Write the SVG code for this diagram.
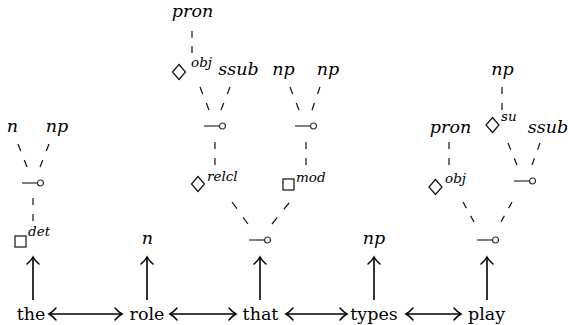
<svg xmlns="http://www.w3.org/2000/svg" xmlns:xlink="http://www.w3.org/1999/xlink" width="568" height="325" viewBox="0 0 568 325">
  <style>
    .word { font-size: 17.5px; text-anchor: middle; }
    .cat { font-style: italic; font-size: 17.5px; text-anchor: middle; }
    .sup { font-style: italic; font-size: 13.5px; }
    .dash { stroke: #111; stroke-width: 1.2; stroke-dasharray: 7 9; fill: none; }
    .arrow { stroke: #000; stroke-width: 1.6; fill: none; }
    .shape { stroke: #111; stroke-width: 1.2; fill: none; }
  </style>
  <defs>
    <!-- lollipop: short bar ending in an open circle -->
    <g id="lolli">
      <line x1="0" y1="0" x2="15" y2="0" stroke="#555" stroke-width="1.5"/>
      <circle cx="18.5" cy="0" r="3" fill="#fff" stroke="#333" stroke-width="1.2"/>
    </g>
    <path id="diamond" d="M0,-7.5 L6.5,0 L0,7.5 L-6.5,0 Z" class="shape"/>
    <marker id="head" markerUnits="userSpaceOnUse" markerWidth="16" markerHeight="16" viewBox="-8 -8 16 16" refX="0" refY="0" orient="auto-start-reverse" overflow="visible">
      <path d="M-7,-6 Q-3,-1.5 0,0 Q-3,1.5 -7,6" stroke="#000" stroke-width="1.5" fill="none" stroke-linecap="round"/>
    </marker>
  </defs>

  <!-- dashed links and arrows -->
  <g id="connectors">
    <line class="dash" pathLength="23" x1="18" y1="144" x2="27" y2="167"/>
    <line class="dash" pathLength="23" x1="49" y1="144" x2="40" y2="167"/>
    <line class="dash" pathLength="23" x1="33" y1="198" x2="33" y2="221"/>
    <line class="dash" pathLength="23" x1="192" y1="31" x2="192" y2="53"/>
    <line class="dash" pathLength="23" x1="200" y1="87" x2="209" y2="110"/>
    <line class="dash" pathLength="23" x1="230" y1="87" x2="221" y2="110"/>
    <line class="dash" pathLength="23" x1="215" y1="142" x2="215" y2="165"/>
    <line class="dash" pathLength="23" x1="290" y1="87" x2="299" y2="110"/>
    <line class="dash" pathLength="23" x1="320" y1="87" x2="312" y2="110"/>
    <line class="dash" pathLength="23" x1="306" y1="142" x2="306" y2="165"/>
    <line class="dash" pathLength="23" x1="232" y1="202" x2="248" y2="224"/>
    <line class="dash" pathLength="23" x1="289" y1="203" x2="272" y2="224"/>
    <line class="dash" pathLength="23" x1="502" y1="87" x2="502" y2="110"/>
    <line class="dash" pathLength="23" x1="449" y1="142" x2="449" y2="165"/>
    <line class="dash" pathLength="23" x1="508" y1="143" x2="517" y2="165"/>
    <line class="dash" pathLength="23" x1="540" y1="143" x2="532" y2="165"/>
    <line class="dash" pathLength="23" x1="463" y1="202" x2="474" y2="222"/>
    <line class="dash" pathLength="23" x1="512" y1="202" x2="501" y2="222"/>

    <!-- word to category -->
    <line class="arrow" x1="33" y1="300" x2="33" y2="257" marker-end="url(#head)"/>
    <line class="arrow" x1="147" y1="300" x2="147" y2="257" marker-end="url(#head)"/>
    <line class="arrow" x1="260" y1="300" x2="260" y2="257" marker-end="url(#head)"/>
    <line class="arrow" x1="374" y1="300" x2="374" y2="257" marker-end="url(#head)"/>
    <line class="arrow" x1="487" y1="300" x2="487" y2="257" marker-end="url(#head)"/>

    <!-- word order -->
    <line class="arrow" x1="49" y1="314" x2="122" y2="314" marker-start="url(#head)" marker-end="url(#head)"/>
    <line class="arrow" x1="170" y1="314" x2="236" y2="314" marker-start="url(#head)" marker-end="url(#head)"/>
    <line class="arrow" x1="286" y1="314" x2="347" y2="314" marker-start="url(#head)" marker-end="url(#head)"/>
    <line class="arrow" x1="406" y1="314" x2="461" y2="314" marker-start="url(#head)" marker-end="url(#head)"/>
  </g>

  <g font-family="DejaVu Serif, serif" fill="#000">
    <!-- words -->
    <g id="w-the"><text class="word" x="31" y="320">the</text></g>
    <g id="w-role"><text class="word" x="147" y="320">role</text></g>
    <g id="w-that"><text class="word" x="260.5" y="320">that</text></g>
    <g id="w-types"><text class="word" x="374" y="320">types</text></g>
    <g id="w-play"><text class="word" x="486.5" y="320">play</text></g>

    <!-- column: the -->
    <g id="the-n"><text class="cat" x="12.5" y="132">n</text></g>
    <g id="the-np"><text class="cat" x="57" y="132">np</text></g>
    <g id="the-fun"><use xlink:href="#lolli" x="22" y="183"/></g>
    <g id="the-det">
      <rect class="shape" x="15" y="236" width="11" height="11"/>
      <text class="sup" x="28" y="236">det</text>
    </g>

    <!-- column: role -->
    <g id="role-n"><text class="cat" x="147.5" y="244">n</text></g>

    <!-- column: that -->
    <g id="that-pron"><text class="cat" x="192.5" y="17">pron</text></g>
    <g id="that-obj">
      <use xlink:href="#diamond" x="179" y="72"/>
      <text class="sup" x="191" y="67">obj</text>
    </g>
    <g id="that-ssub"><text class="cat" x="238.5" y="75">ssub</text></g>
    <g id="that-np1"><text class="cat" x="283.5" y="75">np</text></g>
    <g id="that-np2"><text class="cat" x="328" y="75">np</text></g>
    <g id="that-fun1"><use xlink:href="#lolli" x="204" y="126"/></g>
    <g id="that-fun2"><use xlink:href="#lolli" x="295" y="126"/></g>
    <g id="that-relcl">
      <use xlink:href="#diamond" x="198" y="184"/>
      <text class="sup" x="207" y="181">relcl</text>
    </g>
    <g id="that-mod">
      <rect class="shape" x="283" y="179" width="11" height="11"/>
      <text class="sup" x="296" y="182">mod</text>
    </g>
    <g id="that-fun"><use xlink:href="#lolli" x="249" y="240"/></g>

    <!-- column: types -->
    <g id="types-np"><text class="cat" x="374" y="244">np</text></g>

    <!-- column: play -->
    <g id="play-np"><text class="cat" x="502.5" y="75">np</text></g>
    <g id="play-pron"><text class="cat" x="450.5" y="133">pron</text></g>
    <g id="play-su">
      <use xlink:href="#diamond" x="492.5" y="125"/>
      <text class="sup" x="501" y="121">su</text>
    </g>
    <g id="play-ssub"><text class="cat" x="548" y="133">ssub</text></g>
    <g id="play-obj">
      <use xlink:href="#diamond" x="435.5" y="187"/>
      <text class="sup" x="445" y="183">obj</text>
    </g>
    <g id="play-fun1"><use xlink:href="#lolli" x="514" y="181"/></g>
    <g id="play-fun"><use xlink:href="#lolli" x="477" y="240"/></g>
  </g>
</svg>
